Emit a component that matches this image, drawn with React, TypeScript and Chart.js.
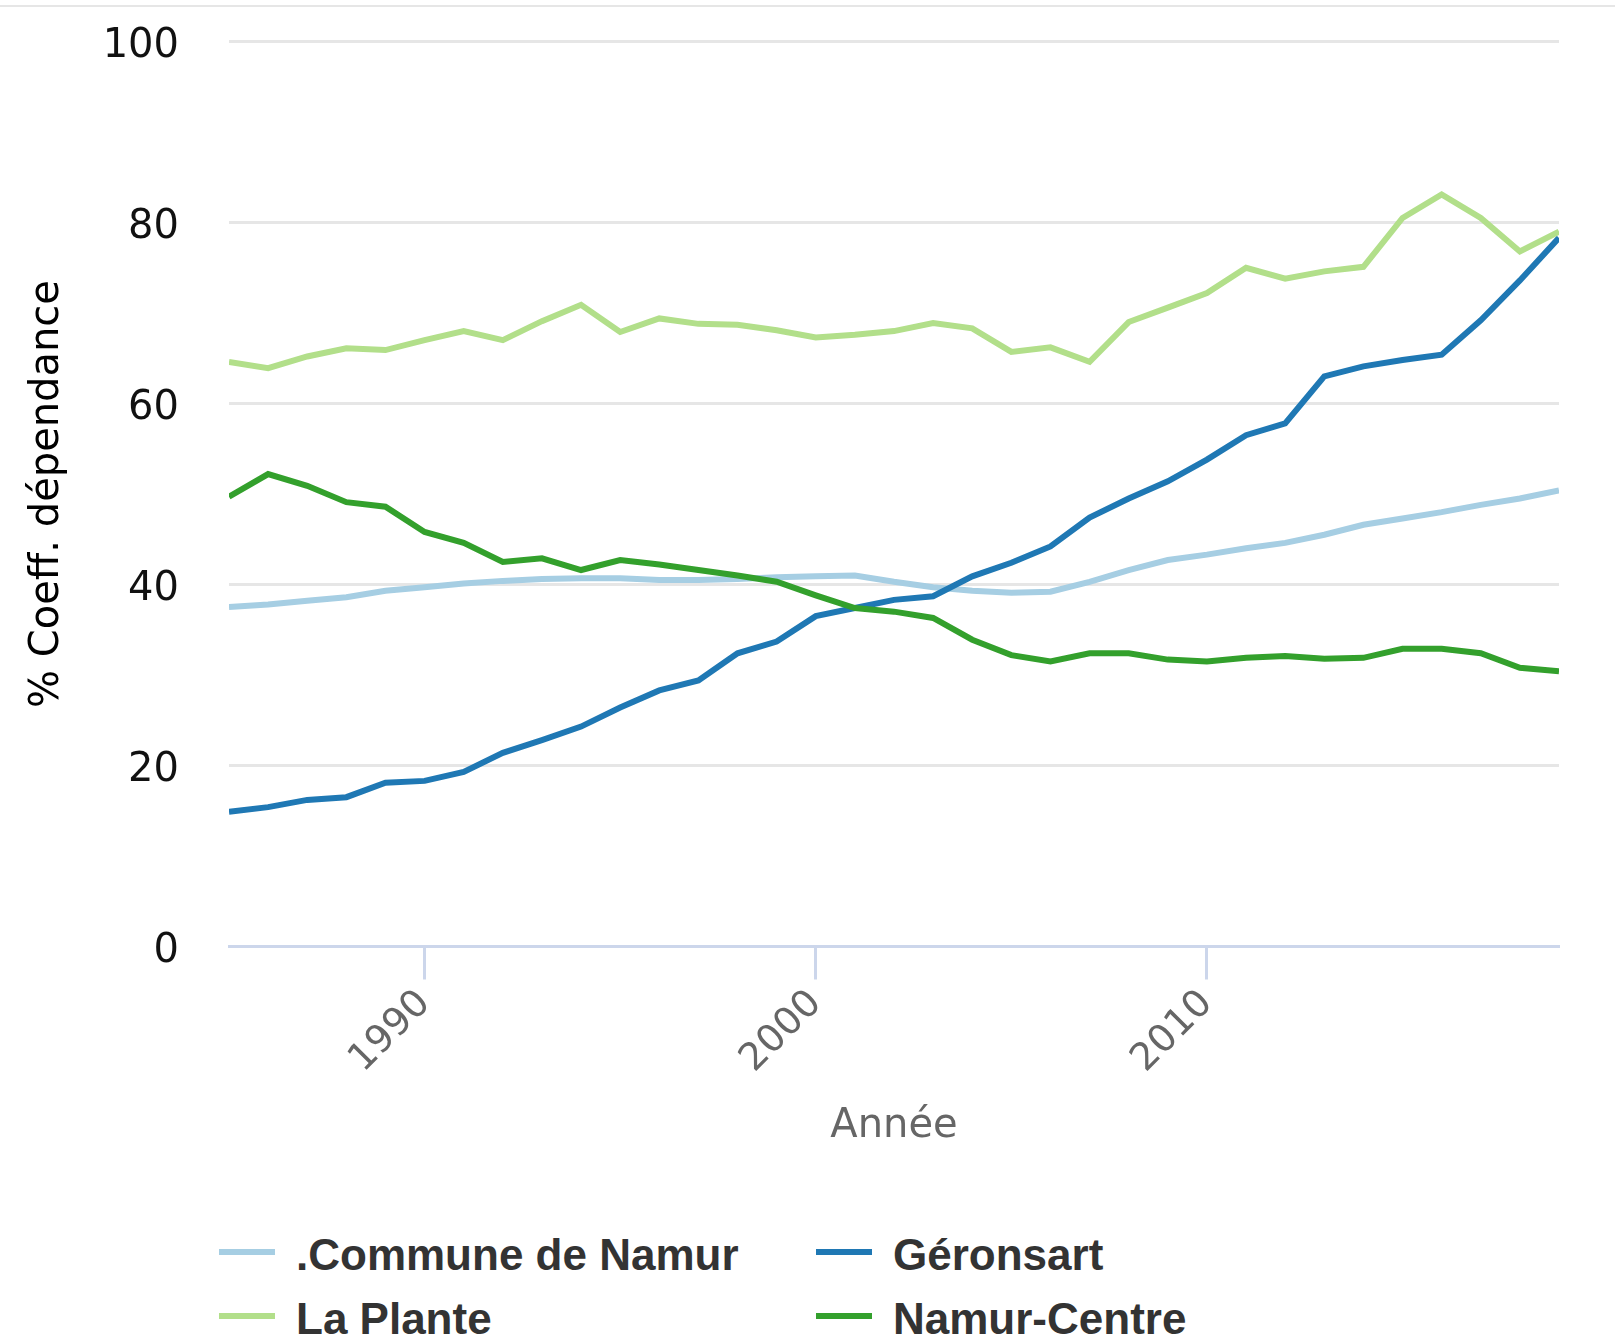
import React, { useEffect, useRef } from "react";
import { Chart, registerables } from "chart.js";

Chart.register(...registerables);

const years = [
  1985, 1986, 1987, 1988, 1989, 1990, 1991, 1992, 1993, 1994, 1995, 1996,
  1997, 1998, 1999, 2000, 2001, 2002, 2003, 2004, 2005, 2006, 2007, 2008,
  2009, 2010, 2011, 2012, 2013, 2014, 2015, 2016, 2017, 2018, 2019,
];

const xTickYears = [1990, 2000, 2010];

const communeNamur = [
  37.5, 37.8, 38.2, 38.6, 39.3, 39.7, 40.1, 40.4, 40.6, 40.7, 40.7, 40.5,
  40.5, 40.6, 40.8, 40.9, 41.0, 40.3, 39.7, 39.3, 39.1, 39.2, 40.3, 41.6,
  42.7, 43.3, 44.0, 44.6, 45.5, 46.6, 47.3, 48.0, 48.8, 49.5, 50.4,
];

const geronsart = [
  14.9, 15.4, 16.2, 16.5, 18.1, 18.3, 19.3, 21.4, 22.8, 24.3, 26.4, 28.3,
  29.4, 32.4, 33.7, 36.5, 37.4, 38.3, 38.7, 40.9, 42.4, 44.2, 47.4, 49.5,
  51.4, 53.8, 56.5, 57.8, 63.0, 64.1, 64.8, 65.4, 69.2, 73.6, 78.3,
];

const laPlante = [
  64.6, 63.9, 65.2, 66.1, 65.9, 67.0, 68.0, 67.0, 69.1, 70.9, 67.9, 69.4,
  68.8, 68.7, 68.1, 67.3, 67.6, 68.0, 68.9, 68.3, 65.7, 66.2, 64.6, 69.0,
  70.6, 72.2, 75.0, 73.8, 74.6, 75.1, 80.5, 83.1, 80.5, 76.8, 79.0,
];

const namurCentre = [
  49.7, 52.2, 50.9, 49.1, 48.6, 45.8, 44.6, 42.5, 42.9, 41.6, 42.7, 42.2,
  41.6, 41.0, 40.3, 38.8, 37.4, 37.0, 36.3, 33.9, 32.2, 31.5, 32.4, 32.4,
  31.7, 31.5, 31.9, 32.1, 31.8, 31.9, 32.9, 32.9, 32.4, 30.8, 30.4,
];

const seriesNames = [".Commune de Namur", "Géronsart", "La Plante", "Namur-Centre"];
const seriesColors = ["#a6cee3", "#1f78b4", "#b2df8a", "#33a02c"];
const seriesValues = [communeNamur, geronsart, laPlante, namurCentre];

const yTitle = "% Coeff. dépendance";
const xTitle = "Année";

const CANVAS_W = 1615;
const CANVAS_H = 1200;
const PLOT_LEFT = 229;
const PLOT_BOTTOM = 946.5;

export default function App() {
  const canvasRef = useRef<HTMLCanvasElement | null>(null);

  useEffect(() => {
    const canvas = canvasRef.current;
    if (!canvas) return;
    const chart = new Chart(canvas, {
      type: "line",
      data: {
        datasets: seriesNames.map((name, i) => ({
          label: name,
          data: years.map((yr, k) => ({ x: yr, y: seriesValues[i][k] })),
          borderColor: seriesColors[i],
          backgroundColor: seriesColors[i],
          borderWidth: 6,
          pointRadius: 0,
          pointHoverRadius: 0,
          tension: 0,
          fill: false,
          order: seriesNames.length - 1 - i,
        })),
      },
      options: {
        responsive: false,
        animation: false,
        devicePixelRatio: 1,
        layout: { padding: { top: 41.5, right: 56, bottom: 0, left: 0 } },
        plugins: {
          legend: { display: false },
          tooltip: { enabled: false },
        },
        scales: {
          x: {
            type: "linear",
            min: years[0],
            max: years[years.length - 1],
            afterBuildTicks: (s: any) => {
              s.ticks = xTickYears.map((v) => ({ value: v }));
            },
            afterFit: (s: any) => {
              s.height = CANVAS_H - PLOT_BOTTOM;
            },
            grid: {
              drawOnChartArea: false,
              drawTicks: true,
              tickLength: 33,
              tickColor: "#ccd6eb",
              tickWidth: 3,
              color: "#ccd6eb",
            },
            border: { display: true, color: "#ccd6eb", width: 3 },
            ticks: {
              autoSkip: false,
              minRotation: 45,
              maxRotation: 45,
              padding: 2,
              color: "#666666",
              font: { family: "DejaVu Sans", size: 38 },
              callback: (v: any) => String(v),
            },
            title: {
              display: true,
              text: xTitle,
              color: "#666666",
              font: { family: "DejaVu Sans", size: 40 },
              padding: { top: 0, bottom: 49 },
            },
          },
          y: {
            min: 0,
            max: 100,
            afterFit: (s: any) => {
              s.width = PLOT_LEFT;
            },
            grid: {
              color: (ctx: any) => (ctx.tick && ctx.tick.value === 0 ? "#ccd6eb" : "#e6e6e6"),
              lineWidth: 3,
              drawTicks: true,
              tickLength: 50,
              tickColor: "rgba(0,0,0,0)",
            },
            border: { display: false },
            ticks: {
              stepSize: 20,
              padding: 0,
              labelOffset: 5,
              color: "#111111",
              font: { family: "DejaVu Sans", size: 40 },
            },
            title: {
              display: true,
              text: yTitle,
              color: "#000000",
              font: { family: "DejaVu Sans", size: 40 },
              padding: { top: 24, bottom: 0 },
            },
          },
        },
      },
    });
    return () => chart.destroy();
  }, []);

  const legendCols = [219, 816];
  const legendRowLineY = [1252, 1316];

  return (
    <div
      style={{
        position: "absolute",
        left: 0,
        top: 0,
        width: CANVAS_W,
        height: 1340,
        overflow: "hidden",
        background: "#ffffff",
      }}
    >
      <div
        style={{
          position: "absolute",
          left: 0,
          top: 5,
          width: CANVAS_W,
          height: 2,
          background: "#e6e6e6",
        }}
      />
      <canvas
        ref={canvasRef}
        width={CANVAS_W}
        height={CANVAS_H}
        style={{ position: "absolute", left: 0, top: 0, width: CANVAS_W, height: CANVAS_H }}
      />
      {seriesNames.map((name, i) => {
        const col = i % 2;
        const row = Math.floor(i / 2);
        const left = legendCols[col];
        const lineY = legendRowLineY[row];
        return (
          <div key={name}>
            <div
              style={{
                position: "absolute",
                left,
                top: lineY - 3,
                width: 56,
                height: 6,
                background: seriesColors[i],
              }}
            />
            <div
              style={{
                position: "absolute",
                left: left + 77,
                top: lineY - 19.5,
                fontFamily: "'Liberation Sans', Arial, sans-serif",
                fontWeight: 700,
                fontSize: 44,
                lineHeight: "44px",
                color: "#333333",
                whiteSpace: "nowrap",
              }}
            >
              {name}
            </div>
          </div>
        );
      })}
    </div>
  );
}
